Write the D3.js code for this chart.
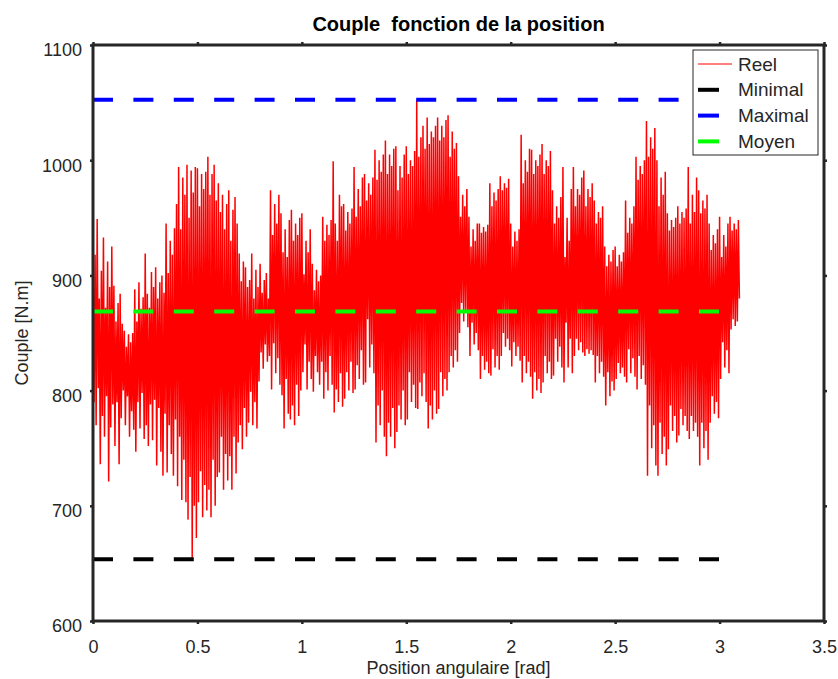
<!DOCTYPE html>
<html>
<head>
	<meta charset="utf-8">
	<script src="https://cdnjs.cloudflare.com/ajax/libs/d3/7.8.5/d3.min.js"></script>
	<style>
		body { margin: 0; background: #fff; }
		text { font-family: "Liberation Sans", Arial, sans-serif; fill: #262626; }
	</style>
</head>
<body>
	<svg width="838" height="679"></svg>
	<script>
		// axis ticks
		const xTicks = [0, 0.5, 1, 1.5, 2, 2.5, 3, 3.5];
		const yTicks = [600, 700, 800, 900, 1000, 1100];

		const angleStep = 0.005;
		const reel = [
			845, 790, 918, 770, 949, 802, 880, 736, 904, 778,
			933, 760, 872, 795, 912, 721, 890, 768, 925, 788,
			891, 752, 860, 790, 876, 736, 884, 776, 858, 800,
			852, 770, 838, 795, 849, 760, 842, 782, 850, 766,
			888, 747, 860, 790, 894, 767, 871, 798, 881, 758,
			919, 770, 884, 752, 872, 788, 903, 757, 890, 792,
			907, 735, 880, 785, 894, 747, 900, 726, 885, 780,
			945, 729, 902, 770, 930, 745, 918, 726, 941, 775,
			962, 717, 994, 760, 940, 705, 985, 740, 970, 703,
			996, 688, 950, 725, 991, 655, 972, 700, 994, 672,
			993, 703, 960, 730, 988, 690, 975, 718, 990, 696,
			1003, 714, 970, 690, 988, 740, 996, 700, 965, 725,
			980, 729, 955, 760, 970, 714, 940, 745, 962, 722,
			974, 743, 930, 714, 957, 760, 968, 728, 945, 755,
			919, 770, 895, 749, 912, 785, 907, 760, 890, 772,
			896, 799, 919, 770, 880, 790, 905, 767, 890, 808,
			910, 833, 885, 819, 896, 840, 902, 825, 880, 830,
			974, 801, 935, 841, 962, 815, 945, 828, 970, 805,
			954, 796, 920, 767, 940, 810, 916, 780, 948, 775,
			957, 787, 930, 770, 945, 805, 935, 778, 950, 800,
			954, 816, 901, 840, 930, 801, 920, 825, 940, 810,
			910, 799, 887, 830, 905, 816, 895, 805, 900, 825,
			951, 793, 930, 816, 944, 800, 935, 830, 948, 805,
			999, 781, 945, 801, 930, 790, 970, 815, 960, 786,
			962, 793, 939, 816, 955, 800, 945, 825, 958, 798,
			994, 801, 951, 822, 975, 810, 960, 835, 985, 805,
			988, 807, 965, 862, 980, 820, 970, 840, 985, 815,
			1009, 755, 983, 787, 1000, 770, 990, 800, 1005, 760,
			1017, 743, 988, 772, 1005, 760, 995, 785, 1010, 750,
			1012, 764, 974, 787, 995, 775, 985, 800, 1005, 770,
			1012, 775, 988, 816, 1000, 790, 995, 805, 1008, 785,
			1052, 784, 1003, 807, 1020, 795, 1030, 815, 1010, 790,
			1037, 767, 1014, 787, 1025, 775, 1020, 800, 1030, 780,
			1037, 784, 1017, 816, 1030, 795, 1020, 810, 1035, 800,
			1039, 816, 1003, 830, 1025, 820, 1010, 835, 1015, 825,
			986, 850, 951, 876, 970, 860, 960, 870, 975, 855,
			951, 830, 925, 859, 940, 840, 930, 850, 945, 835,
			945, 810, 937, 830, 942, 818, 938, 825, 944, 815,
			980, 813, 960, 836, 972, 820, 965, 830, 975, 818,
			986, 830, 974, 850, 980, 838, 976, 845, 984, 835,
			945, 821, 925, 842, 938, 830, 930, 838, 940, 826,
			1022, 807, 980, 830, 1000, 815, 990, 825, 1010, 812,
			1009, 793, 988, 816, 1000, 800, 995, 810, 1005, 798,
			1014, 807, 988, 830, 1000, 815, 995, 825, 1008, 810,
			974, 813, 945, 845, 960, 825, 950, 838, 968, 820,
			994, 807, 916, 859, 950, 820, 930, 845, 975, 815,
			994, 830, 960, 845, 975, 835, 970, 842, 985, 833,
			991, 830, 960, 836, 975, 832, 968, 835, 980, 831,
			965, 807, 945, 830, 955, 815, 950, 825, 960, 812,
			925, 787, 908, 816, 918, 795, 912, 808, 922, 800,
			925, 810, 908, 824, 918, 815, 912, 820, 920, 812,
			965, 807, 937, 836, 950, 815, 945, 828, 960, 812,
			1003, 801, 983, 830, 995, 810, 988, 822, 1000, 805,
			1034, 726, 1003, 787, 1020, 750, 1010, 770, 1028, 735,
			1000, 726, 960, 772, 985, 745, 970, 760, 990, 735,
			954, 749, 939, 787, 948, 765, 942, 778, 950, 755,
			960, 761, 945, 784, 955, 770, 950, 778, 958, 765,
			994, 758, 945, 778, 970, 765, 955, 772, 985, 760,
			974, 735, 954, 772, 965, 750, 958, 765, 970, 740,
			945, 772, 922, 795, 935, 780, 928, 790, 940, 776,
			951, 810, 916, 842, 935, 820, 925, 835, 945, 815,
			951, 853, 939, 862, 945, 856, 940, 860, 948, 880
		];

		// reference levels
		const levelNames = ["Minimal", "Maximal", "Moyen"];
		const levelValues = [653.6, 1052.4, 868.7];
		const levelRange = [0, 3];
		const legendNames = ["Reel", "Minimal", "Maximal", "Moyen"];

		const colors = {Reel: "#ff0000", Minimal: "#000000", Maximal: "#0000ff", Moyen: "#00ff00"};

		let svg = d3.select("svg"),
			margin = {top: 45, right: 14, bottom: 58, left: 93},
			width = svg.attr("width") - margin.left - margin.right,
			height = svg.attr("height") - margin.top - margin.bottom,
			g = svg.append("g").attr("transform", "translate(" + margin.left + "," + margin.top + ")");

		let x = d3.scaleLinear().domain([0, 3.5]).range([0, width]),
			y = d3.scaleLinear().domain([600, 1100]).range([height, 0]);

		// signal
		let line = d3.line()
			.x(function(d, i) { return x(i * angleStep); })
			.y(function(d) { return y(d); });

		g.append("path")
			.datum(reel)
			.attr("fill", "none")
			.attr("stroke", colors.Reel)
			.attr("stroke-width", 1.5)
			.attr("d", line);

		// dashed levels
		let flat = d3.line()
			.x(function(d) { return x(d[0]); })
			.y(function(d) { return y(d[1]); });

		levelNames.forEach(function(name, i) {
			g.append("path")
				.datum(levelRange.map(function(a) { return [a, levelValues[i]]; }))
				.attr("fill", "none")
				.attr("stroke", colors[name])
				.attr("stroke-width", 4)
				.attr("stroke-dasharray", "20 20.4")
				.attr("d", flat);
		});

		// axes
		function styleAxis(sel) {
			sel.select(".domain").remove();
			sel.selectAll(".tick line").attr("stroke", "#262626").attr("stroke-width", 2.5);
			sel.selectAll(".tick text").style("font-size", "18px").attr("fill", "#262626");
		}

		g.append("g")
			.attr("transform", "translate(0," + height + ")")
			.call(d3.axisBottom(x).tickValues(xTicks).tickSize(3).tickPadding(16)
				.tickFormat(function(d) { return String(d); }))
			.call(styleAxis);

		g.append("g")
			.call(d3.axisTop(x).tickValues(xTicks).tickSize(3).tickFormat(""))
			.call(styleAxis);

		let yAxis = g.append("g")
			.call(d3.axisLeft(y).tickValues(yTicks).tickSize(3).tickPadding(8)
				.tickFormat(function(d) { return String(d); }))
			.call(styleAxis);
		yAxis.selectAll(".tick text").attr("dy", "0.6em");

		g.append("g")
			.attr("transform", "translate(" + width + ",0)")
			.call(d3.axisRight(y).tickValues(yTicks).tickSize(3).tickFormat(""))
			.call(styleAxis);

		// frame
		g.append("rect")
			.attr("width", width)
			.attr("height", height)
			.attr("fill", "none")
			.attr("stroke", "#262626")
			.attr("stroke-width", 3);

		// legend
		let legend = g.append("g")
			.attr("transform", "translate(" + (width - 131) + ",5)");
		legend.append("rect")
			.attr("width", 125)
			.attr("height", 105)
			.attr("fill", "#fff")
			.attr("stroke", "#262626")
			.attr("stroke-width", 1);
		let rows = legend.selectAll("g.row")
			.data(legendNames)
			.enter()
			.append("g")
			.attr("class", "row")
			.attr("transform", function(d, i) { return "translate(0," + (14 + i * 25.8) + ")"; });
		rows.append("line")
			.attr("x1", 5)
			.attr("x2", function(d, i) { return i === 0 ? 39 : 26; })
			.attr("stroke", function(d) { return colors[d]; })
			.attr("stroke-width", function(d, i) { return i === 0 ? 1 : 4; });
		rows.append("text")
			.attr("x", 45)
			.attr("y", 6.5)
			.style("font-size", "19px")
			.text(function(d) { return d; });

		// titles
		svg.append("text")
			.attr("x", margin.left + width / 2)
			.attr("y", 31)
			.attr("text-anchor", "middle")
			.style("font-size", "20px")
			.style("font-weight", "bold")
			.style("white-space", "pre")
			.style("fill", "#000")
			.text("Couple  fonction de la position");

		svg.append("text")
			.attr("x", margin.left + width / 2)
			.attr("y", 674)
			.attr("text-anchor", "middle")
			.style("font-size", "18px")
			.text("Position angulaire [rad]");

		svg.append("text")
			.attr("transform", "translate(28," + (margin.top + height / 2) + ") rotate(-90)")
			.attr("text-anchor", "middle")
			.style("font-size", "18px")
			.text("Couple [N.m]");
	</script>
</body>
</html>
